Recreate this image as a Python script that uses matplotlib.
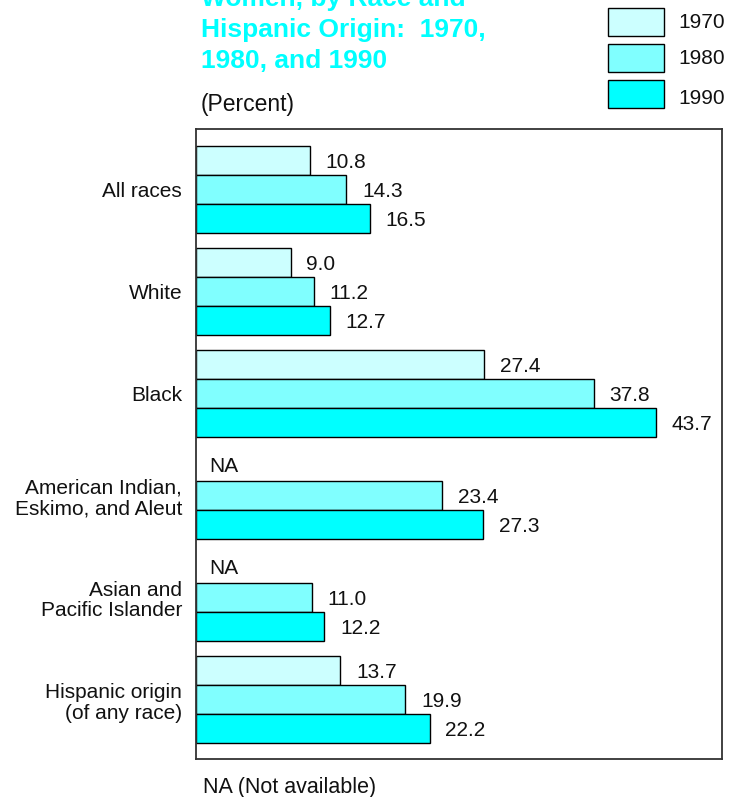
import numpy as np
import matplotlib.pyplot as plt
from matplotlib.patches import Rectangle

plt.rcParams['font.family'] = ['Liberation Sans', 'DejaVu Sans']

categories = ["All races", "White", "Black", "American Indian,\nEskimo, and Aleut",
              "Asian and\nPacific Islander", "Hispanic origin\n(of any race)"]
years = ["1970", "1980", "1990"]
v1970 = [10.8, 9.0, 27.4, None, None, 13.7]
v1980 = [14.3, 11.2, 37.8, 23.4, 11.0, 19.9]
v1990 = [16.5, 12.7, 43.7, 27.3, 12.2, 22.2]
colors = ["#ccffff", "#80ffff", "#00ffff"]
title_lines = ["Women, by Race and", "Hispanic Origin:  1970,", "1980, and 1990"]

fig = plt.figure(figsize=(7.36, 7.97), dpi=100)
ax = fig.add_axes([0.2663, 0.0477, 0.7147, 0.7905])

y = np.arange(len(categories))
h = 0.284
for k, vals in enumerate([v1970, v1980, v1990]):
    pos = y + (k - 1) * h
    for yi, v in zip(pos, vals):
        if v is None:
            ax.text(1.3, yi, "NA", va='center', ha='left', fontsize=15, color='#111111')
            continue
        ax.barh(yi, v, height=h, color=colors[k], edgecolor='black', linewidth=1)
        ax.text(v + 1.5, yi + 0.02, f"{v:.1f}", va='center', ha='left', fontsize=15,
                color='#111111')

ax.set_xlim(0, 50)
ax.set_ylim(5.58, -0.59)
ax.set_yticks(y)
ax.set_yticklabels(categories, fontsize=15, ha='right', multialignment='right',
                   linespacing=1.12, color='#111111')
ax.tick_params(axis='y', length=0, pad=10)
ax.set_xticks([])
for s in ax.spines.values():
    s.set_color('#333333')
    s.set_linewidth(1.3)

# title (top line cut off by the page edge)
for i, line in enumerate(title_lines):
    fig.text(201 / 736, 1 - (6 + 31 * i) / 797, line, color='#00ffff', fontsize=19,
             fontweight='bold', ha='left', va='baseline')
fig.text(201 / 736, 1 - 104 / 797, "(Percent)", fontsize=16.5, ha='left', va='center',
         color='#111111')
fig.text(203 / 736, 1 - 787 / 797, "NA (Not available)", fontsize=15.5, ha='left',
         va='center', color='#111111')

# legend
for k, yr in enumerate(years):
    top = [8, 44, 80][k]
    fig.add_artist(Rectangle((608 / 736, 1 - (top + 28) / 797), 56 / 736, 28 / 797,
                             facecolor=colors[k], edgecolor='black', linewidth=1,
                             transform=fig.transFigure))
    fig.text(678 / 736, 1 - [22, 58, 98][k] / 797, yr, fontsize=15, ha='left',
             va='center', color='#111111')

fig.savefig("out.png", dpi=100)
